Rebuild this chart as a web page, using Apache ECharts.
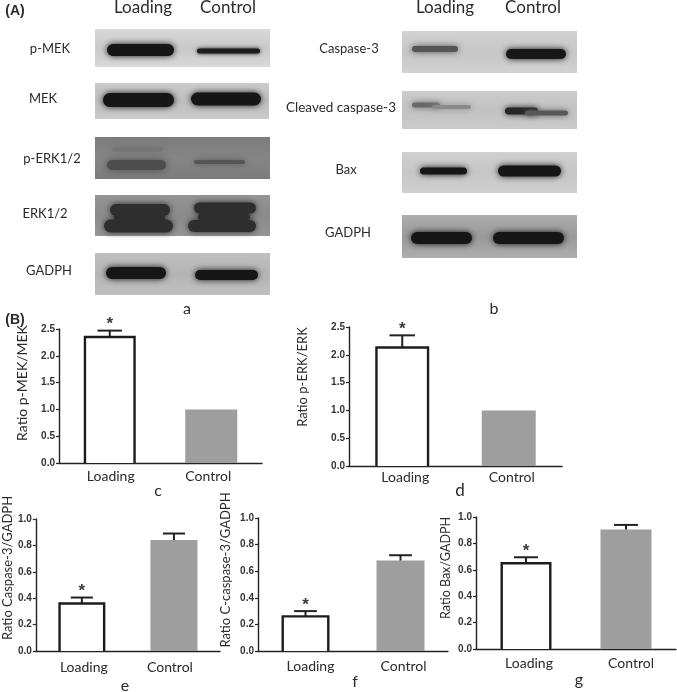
<!DOCTYPE html>
<html>
<head>
<meta charset="utf-8">
<style>html,body{margin:0;padding:0;background:#fff}#c{width:677px;height:692px}#c canvas{filter:blur(0.35px)}</style>
<script src="https://cdn.jsdelivr.net/npm/echarts@6/dist/echarts.min.js"></script>
</head>
<body>
<div id="c"></div>
<script>
const categories = ['Loading', 'Control'];
const pMekValues = [2.35, 1.0];
const pMekErrors = [2.47, null];
const pErkValues = [2.13, 1.0];
const pErkErrors = [2.35, null];
const caspaseValues = [0.36, 0.84];
const caspaseErrors = [0.405, 0.89];
const cCaspaseValues = [0.26, 0.68];
const cCaspaseErrors = [0.30, 0.72];
const baxValues = [0.65, 0.905];
const baxErrors = [0.695, 0.94];
const significance = ['*', ''];

const LABEL = 'Lato, "Open Sans", sans-serif';
const TICK = '"Liberation Sans", Arial, sans-serif';
const INK = '#2b2b2b';

const panels = [
  {name:'Ratio p-MEK/MEK', v:pMekValues, e:pMekErrors, max:2.5, step:0.5, left:59, right:262, top:329, bottom:463, gap:30, shift:26, nameSize:14, bw:52, mg:6, shifts:[1,-3]},
  {name:'Ratio p-ERK/ERK', v:pErkValues, e:pErkErrors, max:2.5, step:0.5, left:349, right:562, top:327, bottom:466, gap:40, shift:39, nameSize:13, bw:54, mg:4, shifts:[3,3]},
  {name:'Ratio Caspase-3/GADPH', v:caspaseValues, e:caspaseErrors, max:1, step:0.2, left:33, right:220, top:519, bottom:651, gap:19, shift:34, nameSize:13, bw:47, mg:9, shifts:[2,-4]},
  {name:'Ratio C-caspase-3/GADPH', v:cCaspaseValues, e:cCaspaseErrors, max:1, step:0.2, left:258, right:448, top:518, bottom:651, gap:26, shift:29, nameSize:13, bw:48, mg:8, shifts:[5,3]},
  {name:'Ratio Bax/GADPH', v:baxValues, e:baxErrors, max:1, step:0.2, left:476, right:676, top:517, bottom:649, gap:24, shift:30, nameSize:12.5, bw:51, mg:7, shifts:[3,5]}
];

const grid = [], xAxis = [], yAxis = [], series = [];
panels.forEach(function (p, i) {
  grid.push({left:p.left, top:p.top, width:p.right - p.left, height:p.bottom - p.top, containLabel:false});
  xAxis.push({
    type:'category', gridIndex:i,
    data:categories.map(function (c, k) {
      const d = p.shifts[k];
      return {value:c, textStyle:{padding:d > 0 ? [0,0,0,2*d] : [0,-2*d,0,0]}};
    }),
    axisLine:{lineStyle:{color:'#222', width:1.4}},
    axisTick:{alignWithLabel:true, length:3, lineStyle:{color:'#222', width:1.2}},
    axisLabel:{fontFamily:LABEL, fontSize:14, color:INK, margin:p.mg}
  });
  yAxis.push({
    type:'value', gridIndex:i, min:0, max:p.max, interval:p.step,
    name:p.name, nameLocation:'middle', nameGap:p.gap,
    nameTextStyle:{fontFamily:LABEL, fontSize:p.nameSize, color:INK, padding:[0,0,0,p.shift]},
    splitLine:{show:false},
    axisLine:{show:true, lineStyle:{color:'#222', width:1.4}},
    axisTick:{show:true, length:3, lineStyle:{color:'#222', width:1.2}},
    axisLabel:{fontFamily:TICK, fontWeight:'bold', fontSize:10, color:'#333', margin:4, formatter:function (v) { return v.toFixed(1); }}
  });
  series.push({
    type:'bar', name:p.name, xAxisIndex:i, yAxisIndex:i, barWidth:p.bw, silent:true,
    data:[
      {value:p.v[0], itemStyle:{color:'#fff'}},
      {value:p.v[1], itemStyle:{color:'#9e9e9e'}}
    ]
  });
  series.push({
    type:'custom', name:p.name + ' error', xAxisIndex:i, yAxisIndex:i, silent:true, z:5,
    data:categories.map(function (c, k) { return [k, p.v[k], p.e[k], significance[k]]; }),
    encode:{x:0, y:[1, 2]},
    renderItem:function (params, api) {
      const k = api.value(0);
      const base = api.coord([k, api.value(1)]);
      const zero = api.coord([k, 0]);
      const band = api.size([1, 0])[0];
      const hw = band * 0.12;
      const children = [];
      const err = api.value(2);
      let topY = base[1];
      const hasErr = err === err && err != null;
      const st = {stroke:'#222', lineWidth:2, fill:'none'};
      if (hasErr) {
        const t = api.coord([k, err]);
        topY = t[1];
        children.push({type:'line', shape:{x1:t[0], y1:t[1], x2:t[0], y2:base[1]}, style:st});
        children.push({type:'line', shape:{x1:t[0]-hw, y1:t[1], x2:t[0]+hw, y2:t[1]}, style:st});
      }
      const mark = significance[k];
      if (mark) {
        /* open outline of the white bar: the baseline is the axis itself */
        const half = p.bw / 2 - 1.2;
        children.push({type:'polyline',
          shape:{points:[[base[0]-half, zero[1]],[base[0]-half, base[1]],[base[0]+half, base[1]],[base[0]+half, zero[1]]]},
          style:{stroke:'#1c1c1c', lineWidth:2.4, fill:'none'}});
        children.push({type:'text', x:base[0], y:topY - 6,
          style:{text:mark, font:'bold 17px ' + TICK, fill:'#3a3a3a', align:'center', verticalAlign:'middle'}});
      }
      return {type:'group', children:children};
    }
  });
});

/* Western-blot strips: decorative photographs in the source, painted as soft graphics. */
function strip(x, y, w, h, bg, bands) {
  const out = [{type:'rect', silent:true, shape:{x:x, y:y, width:w, height:h}, z:1,
    style:{fill:{type:'linear', x:0, y:0, x2:0, y2:1, colorStops:[{offset:0, color:bg[0]},{offset:0.5, color:bg[1]},{offset:1, color:bg[0]}]}}}];
  bands.forEach(function (b) {
    out.push({type:'rect', silent:true, z:2,
      shape:{x:b[0], y:b[2] - b[3]/2, width:b[1]-b[0], height:b[3], r:b[3]/2},
      style:{fill:b[4], shadowBlur:b[5] || 6, shadowColor:b[4]}});
  });
  return out;
}
function txt(s, x, y, size, weight, fam) {
  return {type:'text', silent:true, z:3, x:x, y:y,
    style:{text:s, font:(weight||'normal') + ' ' + size + 'px ' + (fam||LABEL), fill:INK, align:'center', verticalAlign:'middle'}};
}
const D = '#161616';
const E = '#2e2e2e';
const graphic = [].concat(
  strip(95, 29, 175, 38, ['#d8d8d8','#c9c9c9'], [[107,174,50,12,D],[197,260,51,5,'#1c1c1c',4]]),
  strip(95, 83, 174, 36, ['#cbcbcb','#bdbdbd'], [[103,174,100,14,D],[191,261,99,13,D]]),
  strip(95, 137, 175, 42, ['#7c7c7c','#858585'], [[107,166,165,10,'#4e4e4e',8],[112,163,149,5,'#767676',8],[194,245,162,4,'#565656',6]]),
  strip(95, 195, 175, 41, ['#959595','#8a8a8a'], [[110,170,210,12,E],[104,173,226,13,E],[114,165,218,8,E],[194,256,208,11,E],[188,256,226,12,E],[198,250,217,9,E]]),
  strip(95, 253, 175, 42, ['#c0c0c0','#b4b4b4'], [[106,166,273,12,D],[195,258,275,10,D]]),
  strip(402, 31, 175, 42, ['#d2d2d2','#c6c6c6'], [[412,458,49,6,'#555555'],[506,566,54,10,'#181818']]),
  strip(402, 91, 175, 38, ['#cbcbcb','#c2c2c2'], [[412,440,105,5,'#686868'],[432,471,107,4,'#8a8a8a'],[505,538,111,7,'#252525'],[525,568,113,5,'#585858']]),
  strip(402, 152, 175, 41, ['#d0d0d0','#c6c6c6'], [[420,467,171,7,D],[498,561,171,11,D]]),
  strip(402, 215, 175, 43, ['#aeaeae','#999999'], [[411,472,238,12,D],[493,564,238,12,D]]),
  [
    txt('(A)', 15, 11, 14, 'bold', TICK), txt('(B)', 15, 320, 14, 'bold', TICK),
    txt('Loading', 143, 8, 17), txt('Control', 228, 8, 17),
    txt('Loading', 445, 8, 17), txt('Control', 533, 8, 17),
    txt('p-MEK', 50, 49, 13), txt('MEK', 43, 99, 13), txt('p-ERK1/2', 52, 159, 13),
    txt('ERK1/2', 45, 214, 13), txt('GADPH', 49, 271, 13),
    txt('Caspase-3', 349, 49, 13), txt('Cleaved caspase-3', 341, 108, 13.5),
    txt('Bax', 346, 170, 13), txt('GADPH', 348, 233, 13),
    txt('a', 187, 309, 16), txt('b', 494, 309, 16), txt('c', 158, 491, 16), txt('d', 460, 491, 17),
    txt('e', 125, 686, 16), txt('f', 355, 682, 16), txt('g', 579, 680, 16)
  ]
);

const chart = echarts.init(document.getElementById('c'), null, {renderer:'canvas'});
chart.setOption({animation:false, backgroundColor:'#fff', grid:grid, xAxis:xAxis, yAxis:yAxis, series:series, graphic:graphic});
</script>
</body>
</html>
